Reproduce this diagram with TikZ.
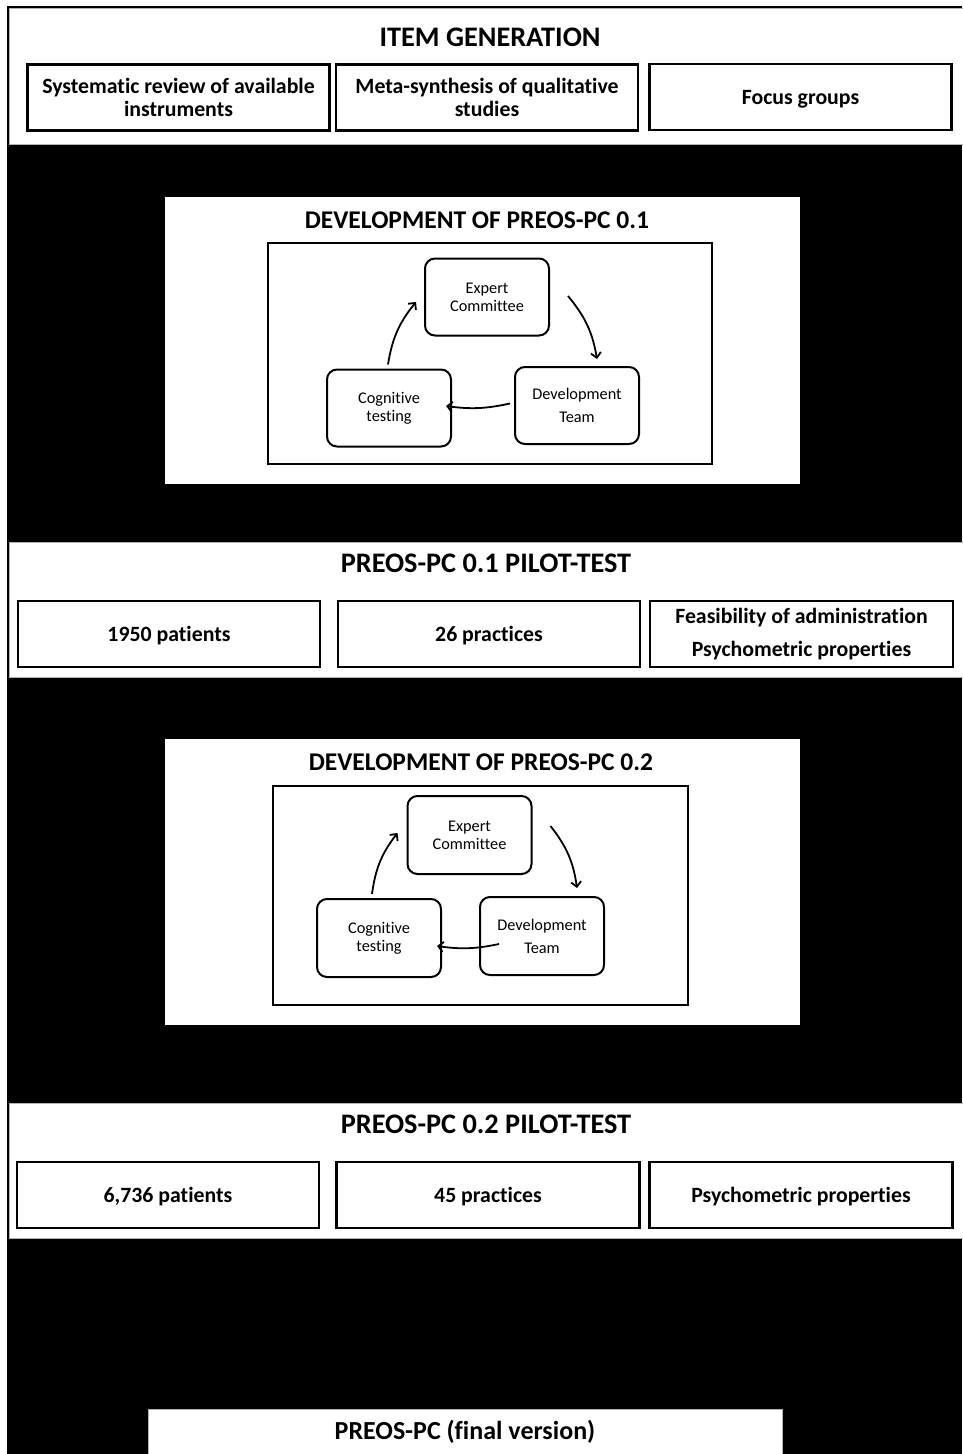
\documentclass[tikz,border=0pt]{standalone}
\usepackage{fontspec}
\setmainfont{Carlito}[Ligatures={NoCommon,NoContextual}]
\usetikzlibrary{arrows.meta}

\begin{document}
\begin{tikzpicture}[x=1pt,y=-1pt,>={Straight Barb[length=5pt,width=10pt]},
	panel/.style={fill=white,draw=gray!60,line width=0.7pt},
	ttl/.style={font=\fontsize{28.3}{30}\selectfont\bfseries},
	itembox/.style={draw,line width=2.2pt,minimum width=302pt,minimum height=66pt,align=center,inner sep=2pt,font=\fontsize{21.8}{23}\selectfont\bfseries},
	onebox/.style={itembox,text height=19.5pt,text depth=4pt},
	innerbox/.style={draw,line width=2pt},
	cyc/.style={draw,line width=2pt,rounded corners=10pt,minimum width=124pt,minimum height=77pt,align=center,font=\fontsize{16.3}{18}\selectfont},
	cycarrow/.style={->,line width=1.8pt}]
	\useasboundingbox (0,0) rectangle (962,1454);
	\fill[black] (7,6) rectangle (962,1454);

	% item generation
	\draw[panel] (9,8) rectangle (963,144);
	\node[ttl] (itemgen) at (490,37) {ITEM GENERATION};
	\node[itembox] (review) at (178.5,97.5) {Systematic review of available\\instruments};
	\node[itembox] (meta) at (487,97.5) {Meta-synthesis of qualitative\\studies};
	\node[onebox] (focus) at (800.5,97) {Focus groups};

	% development 0.1
	\fill[white] (165,197) rectangle (800,484);
	\node[ttl,font=\fontsize{25.5}{28}\selectfont\bfseries] (dev1) at (477,220) {DEVELOPMENT OF PREOS-PC 0.1};
	\draw[innerbox] (268,243) rectangle (712,464);
	\node[cyc] (ec1) at (487,297) {Expert\\Committee};
	\node[cyc] (dt1) at (577,405.5) {Development\\[5pt]Team};
	\node[cyc] (ct1) at (389,408) {Cognitive\\testing};
	\draw[cycarrow] ([shift={(18,-1)}]ec1.east) to[bend left=15] ([shift={(20,-7)}]dt1.north);
	\draw[cycarrow] ([shift={(-4,-2)}]dt1.west) to[bend left=10] ([shift={(-6,-2)}]ct1.east);
	\draw[cycarrow] ([shift={(-1,-4)}]ct1.north) to[bend left=15] ([shift={(-8,5)}]ec1.west);

	% pilot test 0.1
	\draw[panel] (9,542) rectangle (963,677);
	\node[ttl] (pilot1) at (486,563) {PREOS-PC 0.1 PILOT-TEST};
	\node[onebox] (pat1) at (169,634) {1950 patients};
	\node[onebox] (prac1) at (489,634) {26 practices};
	\node[itembox,minimum width=303pt] (prop1) at (801.5,634) {Feasibility of administration\\[10pt]Psychometric properties};

	% development 0.2
	\fill[white] (165,739) rectangle (800,1025);
	\node[ttl,font=\fontsize{25.5}{28}\selectfont\bfseries] (dev2) at (481,762) {DEVELOPMENT OF PREOS-PC 0.2};
	\draw[innerbox] (273,786) rectangle (688,1005);
	\node[cyc,minimum height=78pt] (ec2) at (469.5,835) {Expert\\Committee};
	\node[cyc,minimum height=78pt] (dt2) at (542,936) {Development\\[5pt]Team};
	\node[cyc,minimum height=78pt] (ct2) at (379,938) {Cognitive\\testing};
	\draw[cycarrow] ([shift={(18,-9)}]ec2.east) to[bend left=15] ([shift={(35,-8)}]dt2.north);
	\draw[cycarrow] ([shift={(20,8)}]dt2.west) to[bend left=10] ([shift={(-5,8)}]ct2.east);
	\draw[cycarrow] ([shift={(-7,-4)}]ct2.north) to[bend left=15] ([shift={(-9,-2)}]ec2.west);

	% pilot test 0.2
	\draw[panel] (9,1103) rectangle (963,1238);
	\node[ttl] (pilot2) at (486,1124) {PREOS-PC 0.2 PILOT-TEST};
	\node[onebox] (pat2) at (168,1195) {6,736 patients};
	\node[onebox,minimum width=303pt] (prac2) at (488,1195) {45 practices};
	\node[onebox,minimum width=303pt] (prop2) at (801,1195) {Psychometric properties};

	% final version
	\draw[panel] (148,1409) rectangle (782,1460);
	\node[ttl,font=\fontsize{26}{28}\selectfont\bfseries] (final) at (465,1432) {PREOS-PC (final version)};
\end{tikzpicture}
\end{document}
